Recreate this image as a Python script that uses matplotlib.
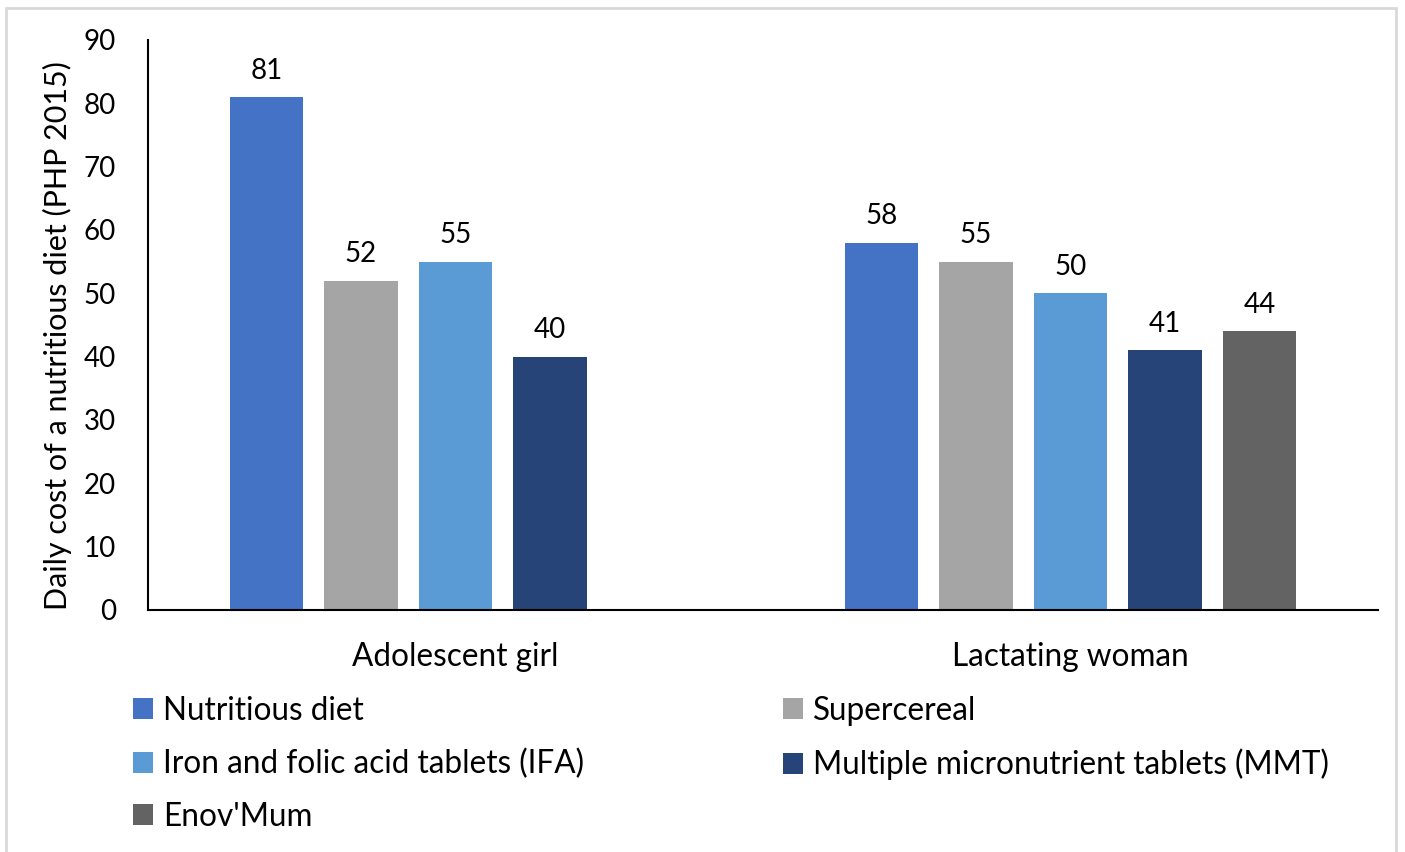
import numpy as np
import matplotlib
matplotlib.use("Agg")
import matplotlib.pyplot as plt
from matplotlib.patches import Rectangle

# data
categories = ["Adolescent girl", "Lactating woman"]
series_names = ["Nutritious diet", "Supercereal", "Iron and folic acid tablets (IFA)",
                "Multiple micronutrient tablets (MMT)", "Enov'Mum"]
nutritious = [81, 58]
supercereal = [52, 55]
ifa = [55, 50]
mmt = [40, 41]
enov_mum = [np.nan, 44]
colors = ["#4472C4", "#A5A5A5", "#5B9BD5", "#264478", "#636363"]

plt.rcParams['font.family'] = ['Lato', 'DejaVu Sans']

fig = plt.figure(figsize=(14.05, 8.52), dpi=100)
ax = fig.add_axes([148/1405, 1 - 610/852, 1230/1405, 570/852])

values = [nutritious, supercereal, ifa, mmt, enov_mum]
x = np.arange(len(categories))
slot = 0.1537
width = 0.119
handles = []
for i, (name, vals, c) in enumerate(zip(series_names, values, colors)):
    pos = x + (i - 2) * slot
    b = ax.bar(pos, vals, width, color=c, label=name)
    handles.append(b)
    for px, v in zip(pos, vals):
        if np.isnan(v):
            continue
        ax.annotate(f"{v:g}", (px, v), xytext=(0, 9.5), textcoords="offset points",
                    ha="center", va="bottom", fontsize=20, color="#000000")

ax.set_xlim(-0.5, 1.5)
ax.set_ylim(0, 90)
ax.set_yticks(np.arange(0, 91, 10))
ax.set_xticks(x)
ax.set_xticklabels(categories, fontsize=22.7)
ax.tick_params(axis='y', length=0, pad=23, labelsize=20)
ax.tick_params(axis='x', length=0, pad=23)
for s in ["top", "right"]:
    ax.spines[s].set_visible(False)
ax.spines["left"].set_linewidth(1.5)
ax.spines["bottom"].set_linewidth(1.5)

ax.set_ylabel("Daily cost of a nutritious diet (PHP 2015)", fontsize=22)
ax.yaxis.set_label_coords(-0.062, 0.482)

# legend, row order like excel
order = [0, 2, 4, 1, 3]
fig.legend([handles[i] for i in order], [series_names[i] for i in order],
           ncol=2, loc="upper left", bbox_to_anchor=(133/1405, 1 - 696/852),
           frameon=False, fontsize=22.7, handlelength=0.65, handleheight=0.65,
           handletextpad=0.3, columnspacing=6.3, labelspacing=0.72, borderpad=0,
           borderaxespad=0)

# outer border
fig.patches.append(Rectangle((6/1405, -0.02), 1390/1405, 1.02 - 8/852,
                             transform=fig.transFigure, fill=False,
                             edgecolor="#D9D9D9", linewidth=2))

fig.savefig("out.png", dpi=100)
